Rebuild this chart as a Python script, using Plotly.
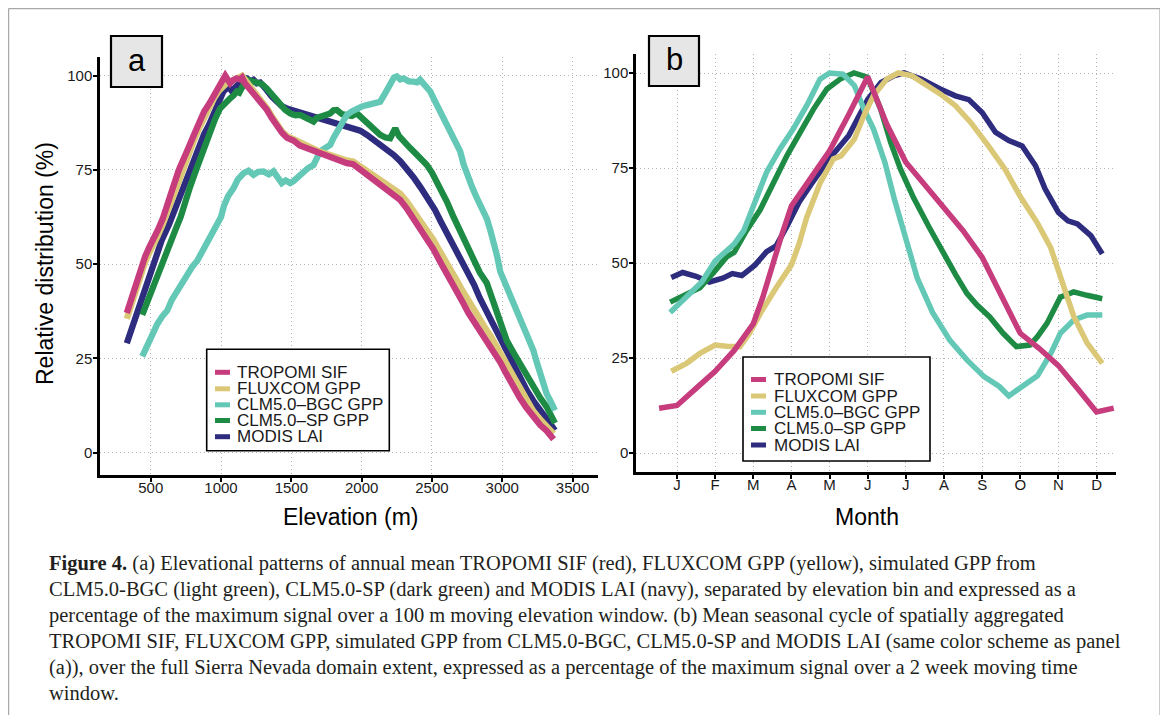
import plotly.graph_objects as go

# The page body has an 8 px default margin, so the figure is drawn 8 px smaller
# and every reference pixel position is shifted by OFF.
OFF = 8
W, H = 1168 - OFF, 715 - OFF

series_names = ["TROPOMI SIF", "FLUXCOM GPP", "CLM5.0\u2013BGC GPP", "CLM5.0\u2013SP GPP", "MODIS LAI"]
series_colors = ["#C63C7D", "#DBC877", "#63C8B5", "#1E8B45", "#2E2C7E"]

# ---------------- Panel a: elevation (m) vs relative distribution (%) ----------------
elev_tropomi = [330, 360, 385, 410, 435, 460, 490, 520, 550, 585, 620, 660, 700, 735, 770, 810, 850, 880, 915, 950,
                985, 1010, 1030, 1050, 1065, 1085, 1110, 1135, 1150, 1170, 1185, 1220, 1255, 1290, 1325, 1360, 1400,
                1435, 1470, 1515, 1560, 1610, 1660, 1705, 1750, 1800, 1850, 1895, 1940, 1975, 2010, 2050, 2085, 2130,
                2180, 2230, 2275, 2320, 2370, 2415, 2460, 2510, 2560, 2600, 2640, 2680, 2720, 2760, 2800, 2840, 2880,
                2920, 2955, 2985, 3020, 3055, 3090, 3125, 3170, 3220, 3270, 3315, 3365]
rel_tropomi = [37.0, 40.5, 43.5, 47.5, 50.0, 52.0, 54.5, 56.5, 59.0, 62.0, 65.5, 70.5, 75.0, 78.5, 81.0, 84.5, 88.0,
               90.5, 92.5, 95.0, 97.0, 98.5, 100.0, 98.8, 98.0, 98.8, 99.3, 99.0, 99.5, 98.0, 97.3, 96.0, 94.5, 93.0,
               91.0, 88.8, 86.5, 84.8, 83.5, 82.8, 81.5, 80.8, 79.8, 79.3, 78.8, 78.0, 77.5, 76.8, 76.5, 75.5, 74.8,
               73.8, 72.5, 71.3, 70.0, 68.5, 67.0, 64.8, 62.0, 59.5, 57.0, 54.0, 50.5, 48.0, 45.5, 42.5, 39.8, 37.0,
               34.8, 32.5, 30.0, 28.0, 25.8, 24.0, 21.5, 19.0, 16.8, 14.5, 12.0, 9.3, 7.3, 5.8, 3.5]

elev_fluxcom = [330, 360, 385, 410, 435, 460, 490, 520, 550, 585, 620, 660, 700, 735, 770, 810, 850, 880, 915, 950,
                985, 1010, 1040, 1070, 1100, 1125, 1150, 1170, 1195, 1230, 1260, 1295, 1330, 1365, 1400, 1435, 1470,
                1515, 1560, 1610, 1660, 1705, 1750, 1800, 1850, 1895, 1940, 1975, 2010, 2050, 2085, 2130, 2180, 2230,
                2275, 2320, 2370, 2415, 2460, 2510, 2560, 2600, 2640, 2680, 2720, 2760, 2800, 2840, 2880, 2920, 2955,
                2985, 3020, 3055, 3090, 3125, 3170, 3220, 3270, 3315, 3365]
rel_fluxcom = [35.5, 39.0, 42.0, 45.5, 48.0, 50.5, 53.0, 55.0, 57.5, 60.5, 64.0, 68.5, 73.0, 76.5, 79.5, 83.0, 86.5,
               89.0, 91.5, 94.0, 96.0, 97.0, 98.0, 98.5, 99.0, 99.8, 100.0, 99.0, 97.8, 96.0, 94.8, 93.2, 91.2, 89.0,
               87.0, 85.2, 84.0, 83.2, 82.0, 81.2, 80.3, 79.8, 79.3, 78.6, 78.0, 77.5, 77.2, 76.3, 75.7, 74.8, 73.8,
               72.6, 71.4, 70.0, 68.7, 66.7, 64.2, 61.8, 59.5, 56.5, 53.2, 50.8, 48.3, 45.5, 42.8, 40.2, 37.8, 35.5,
               33.0, 30.8, 28.5, 26.5, 24.0, 21.5, 19.0, 16.8, 14.0, 11.0, 8.8, 7.0, 5.0]

elev_bgc = [440, 470, 500, 525, 547, 580, 618, 650, 689, 725, 760, 795, 831, 865, 902, 940, 973, 1000, 1021, 1050,
            1088, 1120, 1160, 1195, 1231, 1265, 1302, 1340, 1373, 1400, 1432, 1460, 1492, 1515, 1539, 1565, 1587,
            1620, 1658, 1680, 1705, 1740, 1776, 1800, 1824, 1860, 1895, 1930, 1966, 2000, 2037, 2085, 2132, 2170,
            2203, 2230, 2250, 2275, 2298, 2335, 2369, 2395, 2416, 2450, 2488, 2525, 2559, 2595, 2630, 2665, 2701,
            2725, 2749, 2785, 2820, 2855, 2891, 2915, 2939, 2961, 2986, 3020, 3057, 3079, 3115, 3150, 3185, 3221,
            3245, 3268, 3290, 3316, 3345, 3375]
rel_bgc = [25.5, 28.0, 30.0, 32.5, 34.1, 36.0, 37.7, 40.5, 43.0, 45.5, 47.4, 49.3, 50.9, 53.2, 55.3, 57.8, 60.0, 62.5,
           65.5, 68.0, 70.1, 72.5, 74.1, 74.8, 73.7, 74.5, 74.6, 73.8, 74.6, 73.0, 71.5, 72.2, 71.5, 72.0, 72.8, 73.5,
           74.6, 75.5, 76.3, 78.5, 79.9, 80.8, 81.6, 83.5, 85.2, 87.5, 89.6, 90.5, 91.3, 91.8, 92.2, 92.6, 93.1, 95.5,
           97.5, 99.5, 99.8, 99.0, 99.3, 98.5, 98.4, 98.2, 98.9, 97.5, 95.8, 93.0, 90.5, 88.0, 85.2, 82.5, 79.9, 76.5,
           73.7, 70.5, 67.5, 64.8, 62.0, 59.0, 56.0, 52.5, 48.0, 45.0, 42.0, 39.4, 36.3, 33.2, 30.0, 27.1, 24.0, 20.9,
           18.0, 15.6, 13.5, 11.2]

elev_sp = [440, 470, 500, 535, 571, 605, 642, 680, 713, 732, 780, 827, 875, 922, 958, 993, 1030, 1065, 1090, 1112,
           1130, 1148, 1165, 1183, 1220, 1254, 1290, 1325, 1370, 1420, 1455, 1492, 1530, 1563, 1610, 1658, 1680, 1705,
           1740, 1776, 1800, 1824, 1860, 1895, 1930, 1966, 2000, 2037, 2085, 2132, 2170, 2203, 2225, 2239, 2265, 2298,
           2345, 2393, 2430, 2464, 2500, 2535, 2570, 2606, 2650, 2701, 2750, 2796, 2840, 2890, 2925, 2961, 3000, 3032,
           3080, 3126, 3175, 3221, 3270, 3316, 3375]
rel_sp = [36.5, 39.5, 42.0, 46.0, 49.0, 52.5, 55.8, 59.5, 62.5, 65.0, 70.5, 75.4, 80.5, 85.2, 88.5, 91.3, 93.0, 94.0,
          94.8, 95.8, 95.5, 97.1, 98.0, 98.9, 98.5, 98.4, 97.8, 96.6, 94.5, 92.2, 91.0, 90.0, 89.5, 89.6, 88.5, 87.8,
          88.8, 89.1, 89.5, 90.0, 90.8, 90.9, 89.8, 89.6, 89.3, 90.0, 88.8, 87.8, 86.0, 84.3, 83.6, 83.4, 85.0, 86.0,
          84.0, 82.5, 80.8, 79.0, 77.8, 76.3, 74.3, 71.9, 69.3, 66.6, 62.8, 58.7, 54.5, 50.7, 47.8, 45.0, 41.5, 37.6,
          33.5, 29.7, 26.5, 23.5, 20.3, 17.4, 14.5, 12.1, 7.8]

elev_modis = [330, 380, 430, 480, 530, 580, 630, 680, 730, 780, 815, 851, 880, 915, 946, 980, 1017, 1053, 1075, 1100,
              1136, 1160, 1183, 1210, 1231, 1255, 1278, 1300, 1325, 1360, 1397, 1430, 1468, 1515, 1563, 1610, 1658,
              1705, 1752, 1800, 1847, 1895, 1942, 1990, 2037, 2085, 2132, 2180, 2227, 2275, 2321, 2370, 2420, 2470,
              2520, 2560, 2600, 2650, 2700, 2750, 2800, 2840, 2880, 2910, 2940, 2975, 3010, 3045, 3080, 3130, 3175,
              3220, 3270, 3320, 3375]
rel_modis = [29.0, 34.5, 40.5, 46.5, 52.0, 56.5, 60.5, 65.5, 70.5, 75.5, 78.5, 81.6, 84.5, 87.0, 89.6, 92.5, 95.8,
             97.1, 96.0, 96.8, 98.4, 99.5, 99.3, 98.5, 98.9, 98.0, 98.2, 97.0, 96.2, 94.5, 93.0, 92.0, 91.3, 90.8,
             90.3, 89.6, 89.1, 88.8, 88.2, 87.8, 87.3, 86.8, 86.3, 85.4, 84.3, 83.0, 81.6, 80.4, 79.0, 77.3, 75.4,
             73.0, 70.3, 67.5, 64.5, 61.5, 58.8, 55.3, 51.8, 48.0, 44.5, 41.0, 38.0, 35.8, 33.5, 30.8, 28.0, 25.3,
             22.7, 19.5, 16.5, 13.8, 11.2, 8.5, 5.9]

# ---------------- Panel b: month vs relative distribution (%) ----------------
month_tropomi = [0.53, 1.0, 1.5, 2.0, 2.5, 3.0, 3.25, 3.5, 3.75, 4.0, 4.5, 5.0, 5.5, 6.0, 6.5, 7.0, 7.5, 8.0, 8.5,
                 9.0, 9.5, 10.0, 10.5, 11.0, 11.5, 12.0, 12.45]
seas_tropomi = [11.8, 12.5, 17.0, 21.5, 27.0, 34.0, 41.0, 49.5, 57.5, 65.0, 72.0, 79.5, 89.0, 99.0, 86.5, 76.5, 70.5,
                64.5, 58.5, 51.5, 41.5, 31.5, 27.5, 23.0, 17.0, 10.8, 11.8]

month_fluxcom = [0.85, 1.25, 1.6, 2.0, 2.3, 2.65, 2.9, 3.2, 3.6, 4.0, 4.2, 4.4, 4.75, 5.1, 5.3, 5.65, 5.9, 6.15, 6.5,
                 6.8, 7.15, 7.55, 7.9, 8.3, 8.7, 9.15, 9.6, 10.0, 10.45, 10.8, 11.05, 11.4, 11.75, 12.15]
seas_fluxcom = [21.5, 23.6, 26.2, 28.4, 28.1, 28.0, 31.5, 37.0, 43.5, 49.5, 55.0, 62.0, 71.0, 77.4, 78.2, 82.6, 88.8,
                94.0, 98.4, 100.0, 99.3, 96.7, 94.5, 91.4, 87.0, 81.0, 74.7, 67.5, 60.5, 54.0, 46.0, 36.0, 29.0, 23.6]

month_bgc = [0.82, 1.25, 1.65, 2.0, 2.3, 2.5, 2.75, 3.0, 3.35, 3.7, 4.05, 4.4, 4.75, 5.0, 5.35, 5.65, 5.9, 6.15, 6.45,
             6.7, 7.0, 7.3, 7.7, 8.15, 8.6, 9.05, 9.45, 9.7, 10.05, 10.45, 10.8, 11.05, 11.4, 11.75, 12.15]
seas_bgc = [37.0, 41.0, 45.0, 50.5, 53.5, 55.0, 58.5, 65.0, 73.9, 80.0, 85.3, 91.4, 98.4, 100.0, 99.7, 96.7, 90.5,
            85.3, 76.5, 66.8, 57.0, 46.0, 37.0, 29.7, 24.5, 20.1, 17.5, 15.0, 17.5, 20.3, 26.2, 31.5, 35.0, 36.3, 36.3]

month_sp = [0.82, 1.25, 1.6, 2.0, 2.3, 2.5, 2.82, 3.18, 3.53, 3.88, 4.23, 4.58, 4.93, 5.28, 5.64, 5.99, 6.34, 6.6,
            6.86, 7.2, 7.6, 7.95, 8.3, 8.6, 8.86, 9.2, 9.55, 9.9, 10.25, 10.45, 10.7, 11.05, 11.4, 11.75, 12.15]
seas_sp = [39.7, 41.6, 43.5, 48.0, 51.6, 52.8, 58.5, 64.0, 71.2, 78.2, 84.4, 90.5, 95.8, 98.4, 100.0, 98.9, 90.5, 81.8,
           74.7, 67.2, 59.6, 53.0, 47.0, 42.0, 39.0, 35.8, 31.5, 28.0, 28.4, 30.6, 34.1, 41.0, 42.4, 41.5, 40.6]

month_modis = [0.85, 1.15, 1.5, 1.85, 2.2, 2.45, 2.7, 3.05, 3.35, 3.6, 3.9, 4.2, 4.5, 5.0, 5.5, 6.0, 6.35, 6.7, 6.95,
               7.4, 7.9, 8.3, 8.65, 9.0, 9.35, 9.7, 10.05, 10.4, 10.65, 11.0, 11.25, 11.5, 11.85, 12.15]
seas_modis = [46.2, 47.5, 46.5, 45.0, 46.0, 47.2, 46.7, 49.5, 53.0, 54.5, 60.0, 66.0, 70.5, 77.5, 83.5, 93.0, 97.5,
              99.3, 100.0, 98.4, 95.8, 94.0, 93.0, 89.6, 84.4, 82.2, 80.8, 75.6, 69.5, 63.3, 61.1, 60.3, 57.2, 52.4]

elev_ticks = [500, 1000, 1500, 2000, 2500, 3000, 3500]
pct_ticks = [0, 25, 50, 75, 100]
month_ticks = [1, 2, 3, 4, 5, 6, 7, 8, 9, 10, 11, 12]
month_labels = ["J", "F", "M", "A", "M", "J", "J", "A", "S", "O", "N", "D"]

panel_a_x = [elev_tropomi, elev_fluxcom, elev_bgc, elev_sp, elev_modis]
panel_a_y = [rel_tropomi, rel_fluxcom, rel_bgc, rel_sp, rel_modis]
panel_b_x = [month_tropomi, month_fluxcom, month_bgc, month_sp, month_modis]
panel_b_y = [seas_tropomi, seas_fluxcom, seas_bgc, seas_sp, seas_modis]

caption_lines = [
    "<b>Figure 4.</b> (a) Elevational patterns of annual mean TROPOMI SIF (red), FLUXCOM GPP (yellow), simulated GPP from",
    "CLM5.0-BGC (light green), CLM5.0-SP (dark green) and MODIS LAI (navy), separated by elevation bin and expressed as a",
    "percentage of the maximum signal over a 100 m moving elevation window. (b) Mean seasonal cycle of spatially aggregated",
    "TROPOMI SIF, FLUXCOM GPP, simulated GPP from CLM5.0-BGC, CLM5.0-SP and MODIS LAI (same color scheme as panel",
    "(a)), over the full Sierra Nevada domain extent, expressed as a percentage of the maximum signal over a 2 week moving time",
    "window.",
]


def fx(x):
    return (x - OFF) / W


def fy(y):
    return 1 - (y - OFF) / H


fig = go.Figure()
draw_order = [4, 3, 2, 1, 0]
for i in draw_order:
    fig.add_trace(go.Scatter(x=panel_a_x[i], y=panel_a_y[i], mode="lines", name=series_names[i],
                             line=dict(color=series_colors[i], width=6.3), xaxis="x", yaxis="y",
                             showlegend=False))
for i in draw_order:
    fig.add_trace(go.Scatter(x=panel_b_x[i], y=panel_b_y[i], mode="lines", name=series_names[i],
                             line=dict(color=series_colors[i], width=5.5), xaxis="x2", yaxis="y2",
                             showlegend=False))

tickfont = dict(family="Liberation Sans, Arial, sans-serif", size=15, color="#1a1a1a")
common = dict(showline=True, linecolor="black", linewidth=2.5, ticks="outside", ticklen=4, tickwidth=1.5,
              tickcolor="black", showgrid=True, gridcolor="#b4b4b4", gridwidth=1.2, griddash="1.2px,2.8px",
              zeroline=False, tickfont=tickfont, fixedrange=True)

fig.update_layout(
    width=W, height=H, margin=dict(l=0, r=0, t=0, b=0),
    paper_bgcolor="white", plot_bgcolor="white",
    xaxis=dict(domain=[fx(100), fx(598)], range=[139.4, 3681], tickvals=elev_ticks,
               ticktext=[str(v) for v in elev_ticks], anchor="y", ticklabelstandoff=-7, **common),
    yaxis=dict(domain=[fy(475), fy(57)], range=[-5.97, 104.96], tickvals=pct_ticks, anchor="x",
               ticklabelstandoff=-2, **common),
    xaxis2=dict(domain=[fx(636), fx(1116)], range=[-0.075, 12.51], tickvals=month_ticks,
                ticktext=month_labels, anchor="y2", ticklabelstandoff=-7, **common),
    yaxis2=dict(domain=[fy(472), fy(54)], range=[-5.0, 105.0], tickvals=pct_ticks, anchor="x2",
                ticklabelstandoff=-2, **common),
)

shapes = []
annotations = []

# figure frame
frame_col = "#a8a8a8"
shapes.append(dict(type="line", xref="paper", yref="paper", x0=fx(8.6), x1=fx(1160), y0=fy(8.6), y1=fy(8.6),
                   line=dict(color=frame_col, width=1.2)))
shapes.append(dict(type="line", xref="paper", yref="paper", x0=fx(8.6), x1=fx(8.6), y0=fy(8.6), y1=fy(715),
                   line=dict(color=frame_col, width=1.2)))
shapes.append(dict(type="line", xref="paper", yref="paper", x0=fx(1160), x1=fx(1160), y0=fy(8.6), y1=fy(715),
                   line=dict(color=frame_col, width=1.2)))

# panel tags
for label, (x0, x1, y0, y1) in [("a", (111, 162, 36, 87)), ("b", (649, 699, 36, 86))]:
    shapes.append(dict(type="rect", xref="paper", yref="paper", x0=fx(x0), x1=fx(x1), y0=fy(y1), y1=fy(y0),
                       fillcolor="#e6e6e6", line=dict(color="black", width=2.2)))
    annotations.append(dict(text=label, xref="paper", yref="paper", x=fx((x0 + x1) / 2), y=fy((y0 + y1) / 2 - 1),
                            showarrow=False, xanchor="center", yanchor="middle",
                            font=dict(family="Liberation Sans, Arial", size=31, color="black")))

# legends
legend_specs = [
    dict(box=(206.7, 349.3, 389.3, 450.7), rows=[372.3, 388.8, 404.8, 420.5, 436.7], key=(215, 230), tx=235),
    dict(box=(743, 357, 930, 461), rows=[379.5, 396.0, 412.3, 428.5, 445.0], key=(751, 766), tx=772),
]
for spec in legend_specs:
    bx0, by0, bx1, by1 = spec["box"]
    shapes.append(dict(type="rect", xref="paper", yref="paper", x0=fx(bx0), x1=fx(bx1), y0=fy(by1), y1=fy(by0),
                       fillcolor="white", line=dict(color="black", width=1.6)))
    for i, ry in enumerate(spec["rows"]):
        kx0, kx1 = spec["key"]
        shapes.append(dict(type="rect", xref="paper", yref="paper", x0=fx(kx0), x1=fx(kx1), y0=fy(ry + 2.5),
                           y1=fy(ry - 2.5), fillcolor=series_colors[i], line=dict(width=0)))
        annotations.append(dict(text=series_names[i], xref="paper", yref="paper", x=fx(spec["tx"]), y=fy(ry),
                                showarrow=False, xanchor="left", yanchor="middle",
                                font=dict(family="Liberation Sans, Arial", size=17, color="#1a1a1a")))

# axis titles
title_font = dict(family="Liberation Sans, Arial", size=23, color="black")
annotations.append(dict(text="Relative distribution (%)", xref="paper", yref="paper", x=fx(45), y=fy(264),
                        textangle=-90, showarrow=False, xanchor="center", yanchor="middle", font=title_font))
annotations.append(dict(text="Elevation (m)", xref="paper", yref="paper", x=fx(350), y=fy(517),
                        showarrow=False, xanchor="center", yanchor="middle", font=title_font))
annotations.append(dict(text="Month", xref="paper", yref="paper", x=fx(867), y=fy(517),
                        showarrow=False, xanchor="center", yanchor="middle", font=title_font))

# caption
for k, line in enumerate(caption_lines):
    annotations.append(dict(text=line, xref="paper", yref="paper", x=fx(47), y=fy(563 + 26 * k),
                            showarrow=False, xanchor="left", yanchor="middle",
                            font=dict(family="Liberation Serif, Times New Roman, serif", size=20.5,
                                      color="#231f20")))

fig.update_layout(shapes=shapes, annotations=annotations)
fig.write_html("out.html")
